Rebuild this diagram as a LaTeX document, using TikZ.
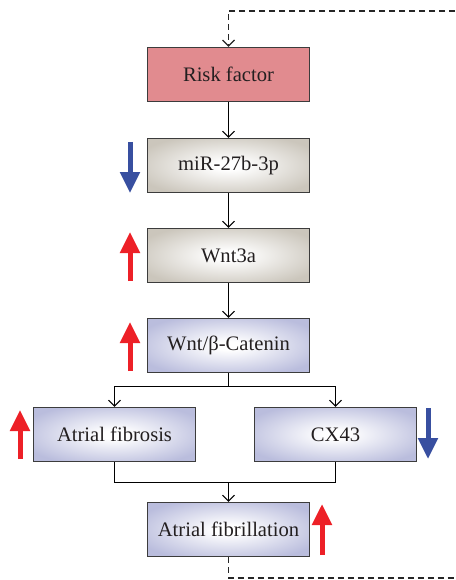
\documentclass[tikz,border=0pt]{standalone}
\usepackage{fontspec}
\setmainfont{Liberation Serif}
\usetikzlibrary{arrows.meta}
\definecolor{riskc}{RGB}{225,139,143}
\definecolor{grayc}{RGB}{203,198,188}
\definecolor{lavc}{RGB}{186,189,221}
\definecolor{upred}{RGB}{237,32,39}
\definecolor{downblue}{RGB}{56,79,160}
\definecolor{edgec}{RGB}{60,60,60}
\definecolor{textc}{RGB}{35,31,32}
\pgfdeclareradialshading{grayshade}{\pgfpoint{0bp}{0bp}}{color(0bp)=(white); color(4bp)=(white); color(30bp)=(grayc); color(75bp)=(grayc)}
\pgfdeclareradialshading{lavshade}{\pgfpoint{0bp}{0bp}}{color(0bp)=(white); color(4bp)=(white); color(30bp)=(lavc); color(75bp)=(lavc)}
\tikzset{
  box/.style={draw=edgec, line width=1.3pt, minimum width=162pt, minimum height=54pt,
    inner sep=0pt, font=\fontsize{20.6}{24}\selectfont, text=textc},
  riskbox/.style={box, fill=riskc},
  graybox/.style={box, shading=grayshade},
  lavbox/.style={box, shading=lavshade},
  conn/.style={line width=1pt, black},
  arr/.style={conn, -{Straight Barb[length=6pt,width=12pt]}},
  dashconn/.style={line width=1.2pt, black!85, dash pattern=on 6pt off 4pt},
  uparrow/.style={line width=5pt, upred, -{Triangle[length=21pt,width=19pt]}},
  downarrow/.style={line width=5pt, downblue, -{Triangle[length=21pt,width=19pt]}}
}
\begin{document}
\begin{tikzpicture}[x=1pt,y=-1pt]
\useasboundingbox (0,0) rectangle (455,580);
\node[riskbox] (risk) at (228.5,74.5) {Risk factor};
\node[graybox] (mir) at (228.5,165.5) {miR-27b-3p};
\node[graybox] (wnt3a) at (228.5,255.5) {Wnt3a};
\node[lavbox] (wntb) at (228.5,345.5) {Wnt/β-Catenin};
\node[lavbox] (fib) at (114.5,434.5) {Atrial fibrosis};
\node[lavbox] (cx) at (335.5,434.5) {CX43};
\node[lavbox] (af) at (228.5,529.5) {Atrial fibrillation};
\coordinate (split) at (228.5,386);
\coordinate (merge) at (228.5,482);
\coordinate (tr) at (455,11);
\coordinate (br) at (455,578);
\draw[arr] (risk) -- (mir);
\draw[arr] (mir) -- (wnt3a);
\draw[arr] (wnt3a) -- (wntb);
\draw[conn] (wntb) -- (split);
\draw[arr] (split) -| (fib.north);
\draw[arr] (split) -| (cx.north);
\draw[conn] (fib.south) |- (merge);
\draw[conn] (cx.south) |- (merge);
\draw[arr] (merge) -- (af.north);
\draw[dashconn] (af.south) |- (br);
\draw[dashconn, -{Straight Barb[length=6pt,width=12pt]}] (tr) -| (risk.north);
% up/down indicators
\draw[downarrow] (130,142) -- (130,193);
\draw[uparrow] (130,281) -- (130,232);
\draw[uparrow] (130,371) -- (130,322);
\draw[uparrow] (20,459) -- (20,410);
\draw[downarrow] (428,408) -- (428,459);
\draw[uparrow] (322,555) -- (322,504);
\end{tikzpicture}
\end{document}
